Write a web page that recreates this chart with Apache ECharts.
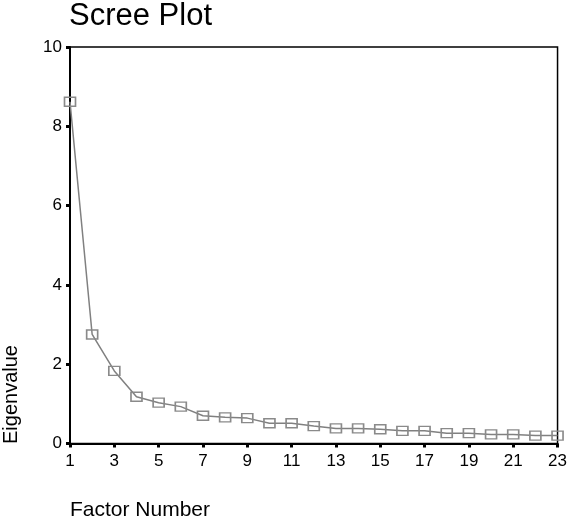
<!DOCTYPE html>
<html>
<head>
<meta charset="utf-8">
<script src="https://cdn.jsdelivr.net/npm/echarts@6/dist/echarts.min.js"></script>
<style>html,body{margin:0;padding:0;background:#fff;}#c{width:570px;height:518px;}</style>
</head>
<body>
<div id="c"></div>
<script>
const factorNumbers = ['1','2','3','4','5','6','7','8','9','10','11','12','13','14','15','16','17','18','19','20','21','22','23'];
const eigenvalues = [8.62, 2.75, 1.83, 1.18, 1.03, 0.93, 0.70, 0.66, 0.64, 0.51, 0.51, 0.44, 0.38, 0.38, 0.36, 0.32, 0.32, 0.26, 0.26, 0.23, 0.23, 0.20, 0.20];
const titleText = 'Scree Plot';
const xName = 'Factor Number';
const yName = 'Eigenvalue';

const FONT = '"Liberation Sans", Arial, sans-serif';
const chart = echarts.init(document.getElementById('c'), null, {renderer: 'canvas'});
chart.setOption({
  animation: false,
  backgroundColor: '#fff',
  title: {
    text: titleText, left: 69, top: 1, padding: 0,
    textStyle: {fontSize: 31, fontWeight: 'normal', color: '#000', fontFamily: FONT}
  },
  grid: {left: 70, right: 9, top: 47, bottom: 74.5, containLabel: false,
    show: true, borderColor: '#000', borderWidth: 1.5, backgroundColor: 'transparent'},
  xAxis: {
    type: 'category', data: factorNumbers, boundaryGap: false,
    axisLine: {lineStyle: {color: '#000', width: 2}},
    axisTick: {show: true, interval: 1, length: 4, lineStyle: {color: '#000', width: 3}},
    axisLabel: {interval: 1, fontSize: 17, color: '#000', margin: 9, fontFamily: FONT},
    splitLine: {show: false}
  },
  yAxis: {
    type: 'value', min: 0, max: 10, interval: 2,
    axisLine: {show: true, lineStyle: {color: '#000', width: 2}},
    axisTick: {show: true, length: 4, lineStyle: {color: '#000', width: 3}},
    axisLabel: {fontSize: 17, color: '#000', margin: 8, fontFamily: FONT},
    splitLine: {show: false}
  },
  graphic: [
    {type: 'text', left: 70, top: 500, style: {text: xName, fill: '#000', font: '21px ' + FONT}},
    {type: 'text', x: 1, y: 444, rotation: Math.PI / 2,
      style: {text: yName, fill: '#000', font: '20px ' + FONT, textAlign: 'left', textVerticalAlign: 'top'}}
  ],
  series: [{
    type: 'line', data: eigenvalues,
    symbol: 'rect', symbolSize: [11, 9], showAllSymbol: true,
    lineStyle: {color: '#808080', width: 1.5},
    itemStyle: {color: 'rgba(255,255,255,0)', borderColor: '#8a8a8a', borderWidth: 1.5},
    clip: false
  }]
});
</script>
</body>
</html>
